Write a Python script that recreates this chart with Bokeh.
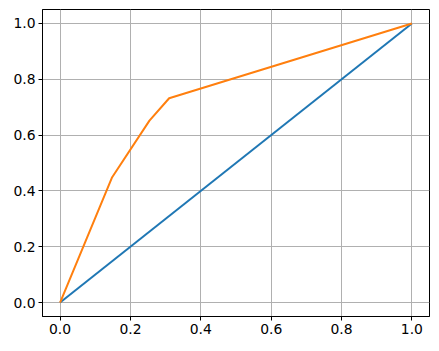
from bokeh.plotting import figure
from bokeh.models import Range1d, FixedTicker, CustomJSTickFormatter
from bokeh.embed import file_html
from bokeh.resources import INLINE

# Data
diag_x = [0.0, 1.0]
diag_y = [0.0, 1.0]
roc_fpr = [0.0, 0.148, 0.254, 0.310, 1.0]
roc_tpr = [0.0, 0.449, 0.652, 0.732, 1.0]
ticks = [0.0, 0.2, 0.4, 0.6, 0.8, 1.0]

p = figure(width=439, height=351, output_backend="svg", toolbar_location=None,
           x_range=Range1d(-0.05, 1.05), y_range=Range1d(-0.05, 1.05),
           min_border_left=42, min_border_right=10, min_border_top=9, min_border_bottom=35)
p.background_fill_color = "white"
p.border_fill_color = "white"
p.outline_line_color = "black"
p.outline_line_width = 1

p.line(diag_x, diag_y, line_color="#1f77b4", line_width=2)
p.line(roc_fpr, roc_tpr, line_color="#ff7f0e", line_width=2)

fmt = CustomJSTickFormatter(code="return tick.toFixed(1);")
for ax in (p.xaxis[0], p.yaxis[0]):
    ax.ticker = FixedTicker(ticks=ticks)
    ax.formatter = fmt
    ax.major_tick_out = 4
    ax.major_tick_in = 0
    ax.minor_tick_out = 0
    ax.minor_tick_in = 0
    ax.axis_line_color = "black"
    ax.major_tick_line_color = "black"
    ax.major_label_text_font = "DejaVu Sans"
    ax.major_label_text_font_size = "13.9px"
    ax.major_label_text_color = "black"
    ax.major_label_standoff = 3

for g in (p.xgrid[0], p.ygrid[0]):
    g.ticker = FixedTicker(ticks=ticks)
    g.grid_line_color = "#b0b0b0"
    g.grid_line_width = 1

open("out.html", "w").write(file_html(p, INLINE))
